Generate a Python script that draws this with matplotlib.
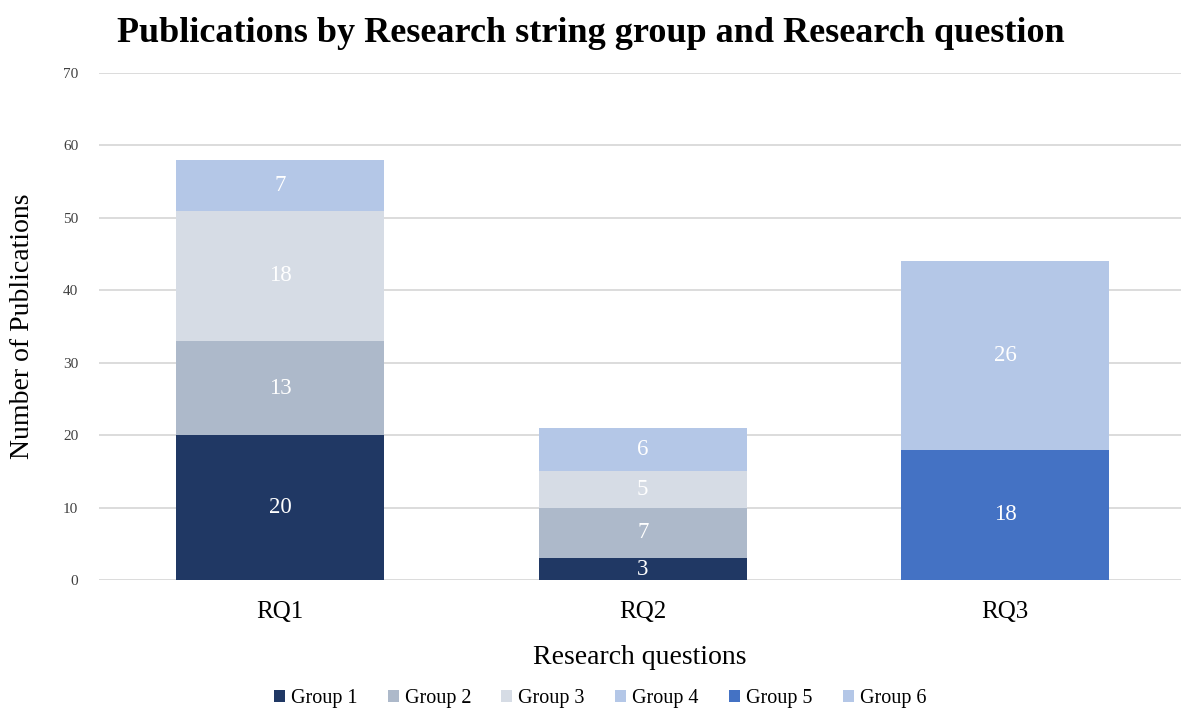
import matplotlib

matplotlib.use("Agg")
import matplotlib.pyplot as plt
import numpy as np

plt.rcParams["font.family"] = ["Liberation Serif", "DejaVu Serif"]

QUESTIONS = ["RQ1", "RQ2", "RQ3"]
GROUPS = ["Group 1", "Group 2", "Group 3", "Group 4", "Group 5", "Group 6"]
COUNTS = {
    "Group 1": [20, 3, 0],
    "Group 2": [13, 7, 0],
    "Group 3": [18, 5, 0],
    "Group 4": [7, 6, 0],
    "Group 5": [0, 0, 18],
    "Group 6": [0, 0, 26],
}
COLORS = ["#203864", "#ADB9CA", "#D6DCE5", "#B4C7E7", "#4472C4", "#B4C7E7"]

fig = plt.figure(figsize=(11.81, 7.11), dpi=100)
ax = fig.add_axes([99 / 1181, 1 - 580 / 711, 1 - 99 / 1181, 507 / 711])

xs = np.arange(len(QUESTIONS))
bottom = np.zeros(len(QUESTIONS))
for g, c in zip(GROUPS, COLORS):
    vals = np.array(COUNTS[g], dtype=float)
    ax.bar(xs, vals, 0.575, bottom=bottom, color=c, label=g, zorder=3)
    for x, v, b in zip(xs, vals, bottom):
        if v > 0:
            ax.text(x, b + v / 2, f"{v:.0f}", ha="center", va="center",
                    color="white", fontsize=16.5, zorder=4)
    bottom += vals

ax.set_xlim(-0.5, 2.485)
ax.set_ylim(0, 70)
ax.set_yticks(range(0, 71, 10))
ax.set_xticks(xs)
ax.set_xticklabels(QUESTIONS, fontsize=18)
ax.tick_params(axis="y", labelsize=11, length=0, pad=15, colors="#404040")
ax.tick_params(axis="x", length=0, pad=15)
ax.grid(axis="y", color="#d9d9d9", linewidth=1.3, zorder=0)
for s in ax.spines.values():
    s.set_visible(False)

ax.set_ylabel("Number of Publications", fontsize=20, labelpad=20)
ax.set_xlabel("Research questions", fontsize=20, labelpad=16)
fig.text(0.5, 0.953, "Publications by Research string group and Research question",
         ha="center", va="center", fontsize=26, fontweight="bold")

handles, labels = ax.get_legend_handles_labels()
fig.legend(handles, labels, loc="center", bbox_to_anchor=(0.508, 1 - 699 / 711),
           ncol=6, frameon=False, fontsize=14.5, handlelength=0.55,
           handleheight=0.55, handletextpad=0.3, columnspacing=1.5)

fig.savefig("out.png", dpi=100)
